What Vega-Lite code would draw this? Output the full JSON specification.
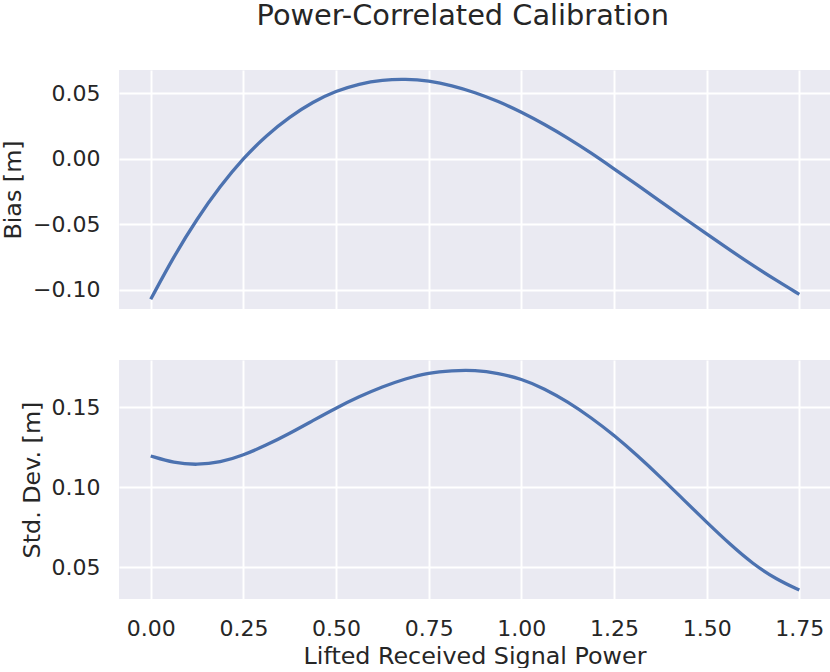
{
  "$schema": "https://vega.github.io/schema/vega-lite/v6.json",
  "description": "Bias and standard deviation of the fitted calibration curve against lifted received signal power.",
  "title": {"text": "Power-Correlated Calibration", "offset": 39, "dx": 47},
  "padding": {"left": 1, "top": 2, "right": 0, "bottom": 0},
  "data": {
    "values": [
      {"power": 0.0, "metric": "bias", "value": -0.1074},
      {"power": 0.0625, "metric": "bias", "value": -0.0745},
      {"power": 0.125, "metric": "bias", "value": -0.0458},
      {"power": 0.1875, "metric": "bias", "value": -0.0209},
      {"power": 0.25, "metric": "bias", "value": 0.0005},
      {"power": 0.3125, "metric": "bias", "value": 0.018},
      {"power": 0.375, "metric": "bias", "value": 0.032},
      {"power": 0.4375, "metric": "bias", "value": 0.0435},
      {"power": 0.5, "metric": "bias", "value": 0.0518},
      {"power": 0.5625, "metric": "bias", "value": 0.0573},
      {"power": 0.625, "metric": "bias", "value": 0.0603},
      {"power": 0.6875, "metric": "bias", "value": 0.061},
      {"power": 0.75, "metric": "bias", "value": 0.0596},
      {"power": 0.8125, "metric": "bias", "value": 0.056},
      {"power": 0.875, "metric": "bias", "value": 0.0507},
      {"power": 0.9375, "metric": "bias", "value": 0.0439},
      {"power": 1.0, "metric": "bias", "value": 0.0357},
      {"power": 1.0625, "metric": "bias", "value": 0.0263},
      {"power": 1.125, "metric": "bias", "value": 0.0159},
      {"power": 1.1875, "metric": "bias", "value": 0.0046},
      {"power": 1.25, "metric": "bias", "value": -0.0077},
      {"power": 1.3125, "metric": "bias", "value": -0.02},
      {"power": 1.375, "metric": "bias", "value": -0.0325},
      {"power": 1.4375, "metric": "bias", "value": -0.0451},
      {"power": 1.5, "metric": "bias", "value": -0.0575},
      {"power": 1.5625, "metric": "bias", "value": -0.0697},
      {"power": 1.625, "metric": "bias", "value": -0.0816},
      {"power": 1.6875, "metric": "bias", "value": -0.0929},
      {"power": 1.75, "metric": "bias", "value": -0.1036},
      {"power": 0.0, "metric": "std", "value": 0.1194},
      {"power": 0.0625, "metric": "std", "value": 0.115},
      {"power": 0.125, "metric": "std", "value": 0.1138},
      {"power": 0.1875, "metric": "std", "value": 0.1153},
      {"power": 0.25, "metric": "std", "value": 0.1199},
      {"power": 0.3125, "metric": "std", "value": 0.1262},
      {"power": 0.375, "metric": "std", "value": 0.1335},
      {"power": 0.4375, "metric": "std", "value": 0.1415},
      {"power": 0.5, "metric": "std", "value": 0.1494},
      {"power": 0.5625, "metric": "std", "value": 0.1565},
      {"power": 0.625, "metric": "std", "value": 0.1627},
      {"power": 0.6875, "metric": "std", "value": 0.1677},
      {"power": 0.75, "metric": "std", "value": 0.1715},
      {"power": 0.8125, "metric": "std", "value": 0.1728},
      {"power": 0.875, "metric": "std", "value": 0.1731},
      {"power": 0.9375, "metric": "std", "value": 0.1712},
      {"power": 1.0, "metric": "std", "value": 0.1676},
      {"power": 1.0625, "metric": "std", "value": 0.1615},
      {"power": 1.125, "metric": "std", "value": 0.1533},
      {"power": 1.1875, "metric": "std", "value": 0.1435},
      {"power": 1.25, "metric": "std", "value": 0.1324},
      {"power": 1.3125, "metric": "std", "value": 0.1198},
      {"power": 1.375, "metric": "std", "value": 0.1063},
      {"power": 1.4375, "metric": "std", "value": 0.0921},
      {"power": 1.5, "metric": "std", "value": 0.078},
      {"power": 1.5625, "metric": "std", "value": 0.0643},
      {"power": 1.625, "metric": "std", "value": 0.0519},
      {"power": 1.6875, "metric": "std", "value": 0.0424},
      {"power": 1.75, "metric": "std", "value": 0.0356}
    ]
  },
  "spacing": 51,
  "vconcat": [
    {
      "width": 711,
      "height": 239,
      "transform": [{"filter": {"field": "metric", "equal": "bias"}}],
      "mark": {"type": "line", "color": "#4C72B0", "strokeWidth": 3.3, "interpolate": "basis"},
      "encoding": {
        "x": {
          "field": "power",
          "type": "quantitative",
          "scale": {"domain": [-0.0856, 1.8328], "nice": false, "zero": false},
          "axis": {"values": [0, 0.25, 0.5, 0.75, 1, 1.25, 1.5, 1.75], "labels": false, "title": null}
        },
        "y": {
          "field": "value",
          "type": "quantitative",
          "scale": {"domain": [-0.1148, 0.0678], "nice": false, "zero": false},
          "axis": {"values": [-0.1, -0.05, 0, 0.05], "format": ".2f", "title": "Bias [m]"}
        }
      }
    },
    {
      "width": 711,
      "height": 239,
      "transform": [{"filter": {"field": "metric", "equal": "std"}}],
      "mark": {"type": "line", "color": "#4C72B0", "strokeWidth": 3.3, "interpolate": "basis"},
      "encoding": {
        "x": {
          "field": "power",
          "type": "quantitative",
          "scale": {"domain": [-0.0856, 1.8328], "nice": false, "zero": false},
          "axis": {"values": [0, 0.25, 0.5, 0.75, 1, 1.25, 1.5, 1.75], "format": ".2f", "title": "Lifted Received Signal Power", "labelPadding": 19, "titlePadding": 5}
        },
        "y": {
          "field": "value",
          "type": "quantitative",
          "scale": {"domain": [0.03, 0.1794], "nice": false, "zero": false},
          "axis": {"values": [0.05, 0.1, 0.15], "format": ".2f", "title": "Std. Dev. [m]"}
        }
      }
    }
  ],
  "config": {
    "font": "DejaVu Sans",
    "background": "white",
    "view": {"fill": "#EAEAF2", "stroke": null},
    "axis": {
      "grid": true,
      "gridColor": "white",
      "gridWidth": 2,
      "domain": false,
      "ticks": false,
      "tickSize": 0,
      "labelPadding": 19,
      "labelFontSize": 22,
      "labelColor": "#262626",
      "titleFontSize": 23.8,
      "titleFontWeight": "normal",
      "titleColor": "#262626",
      "titlePadding": 7
    },
    "title": {"fontSize": 28.8, "fontWeight": "normal", "color": "#262626", "anchor": "middle"}
  }
}
